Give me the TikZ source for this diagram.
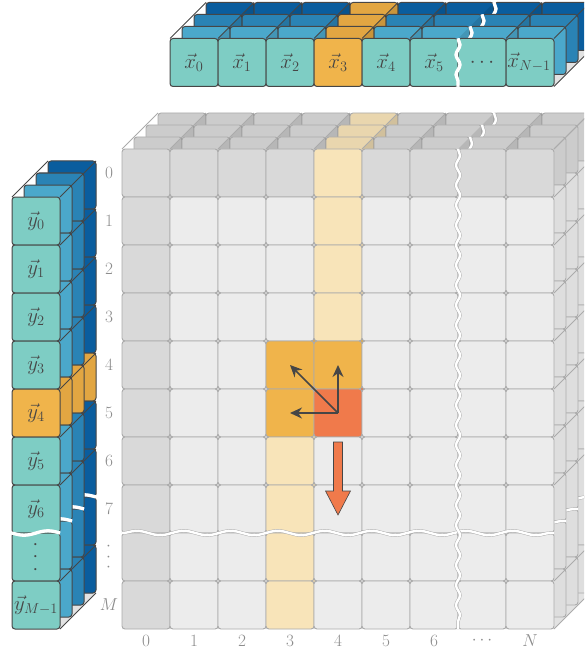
\documentclass[tikz,border=0pt]{standalone}
\usetikzlibrary{arrows.meta,decorations.pathmorphing}

\definecolor{vecfront}{HTML}{7ECDC4}
\definecolor{veclayA}{HTML}{4BA8CB}
\definecolor{veclayB}{HTML}{2A83B5}
\definecolor{veclayC}{HTML}{0A5D9E}
\definecolor{pickcell}{HTML}{F0B44B}
\definecolor{pickback}{HTML}{E2A642}
\definecolor{curcell}{HTML}{F07A4B}
\definecolor{cellgray}{HTML}{ECECEC}
\definecolor{headgray}{HTML}{D9D9D9}
\definecolor{pathtint}{HTML}{F8E4B9}
\definecolor{gridline}{HTML}{ABABAB}
\definecolor{floorgray}{HTML}{E2E2E2}
\definecolor{darkline}{HTML}{464646}
\definecolor{labelgray}{HTML}{8C8C8C}

\begin{document}
\begin{tikzpicture}[x=1pt,y=-1pt,
    gcell/.style={draw=gridline,line width=0.9pt,rounded corners=3pt},
    vcell/.style={draw=darkline,line width=1pt,rounded corners=3pt},
    wedge/.style={fill=black,fill opacity=0.1},
    breakband/.style={draw=#1,double=white,double distance=2.4pt,line width=0.45pt},
    breakband/.default=gridline,
    breakline/.style={breakband=#1,decorate,decoration={snake,amplitude=2pt,segment length=20pt}},
    breakline/.default=gridline,
    longwave/.style={decoration={segment length=47pt,amplitude=2.2pt}},
    axislabel/.style={text=labelgray,font=\fontsize{17.5}{21}\selectfont},
    veclabel/.style={text=darkline,font=\fontsize{20.5}{24}\selectfont},
    dotslabel/.style={rotate=90,inner sep=1pt},
    move/.style={darkline,line width=1.6pt,-{Stealth[length=12pt,width=11pt]}}]
\path[use as bounding box] (0,0) rectangle (584,655);
\clip (0,0) rectangle (584,655);

% score matrix
\fill[floorgray] (122,629) -- (554,629) -- ++(36,-36) -- (158,593) -- cycle;
\foreach \k/\sh in {3/94,2/94,1/94,0/100}{
  \begin{scope}[shift={(12*\k,-12*\k)}]
    \foreach \c in {0,...,8}
      \foreach \r in {0,...,9}{
        \def\fc{cellgray}
        \ifnum\r=0 \def\fc{headgray}\fi
        \ifnum\c=0 \def\fc{headgray}\fi
        \ifnum\c=4 \ifnum\r<4 \def\fc{pathtint}\fi\fi
        \ifnum\c=3 \ifnum\r>5 \def\fc{pathtint}\fi\fi
        \ifnum\r=4 \ifnum\c=3 \def\fc{pickcell}\fi \ifnum\c=4 \def\fc{pickcell}\fi\fi
        \ifnum\r=5 \ifnum\c=3 \def\fc{pickcell}\fi \ifnum\c=4 \def\fc{curcell}\fi\fi
        \draw[gcell,fill=\fc!\sh!black] (122+48*\c,149+48*\r) rectangle ++(48,48);
      }
    \ifnum\k>0
      \foreach \c in {1,...,8}
        \fill[wedge] (110+48*\c,161) -- (122+48*\c,149) -- (122+48*\c,161) -- cycle;
    \fi
    \draw[breakline,longwave] (122,533) -- (554,533);
    \draw[breakline] (458,149) -- (458,629);
  \end{scope}
}
\foreach \c in {0,...,6,8,9}
  \draw[gridline,line width=0.8pt] (122+48*\c,149) -- ++(36,-36);
\foreach \r in {0,...,7,9,10}
  \draw[gridline,line width=0.8pt] (554,149+48*\r) -- ++(36,-36);

% x vector
\fill[floorgray] (170,86.5) -- (554,86.5) -- ++(36,-36) -- (206,50.5) -- cycle;
\foreach \k/\lc in {3/veclayC,2/veclayB,1/veclayA,0/vecfront}{
  \begin{scope}[shift={(12*\k,-12*\k)}]
    \foreach \c in {0,...,7}{
      \def\fc{\lc}
      \ifnum\c=3 \ifnum\k=0 \def\fc{pickcell}\else \def\fc{pickback}\fi\fi
      \draw[vcell,fill=\fc] (170+48*\c,38.5) rectangle ++(48,48);
    }
    \ifnum\k>0
      \foreach \c in {1,...,7}
        \fill[wedge] (158+48*\c,50.5) -- (170+48*\c,38.5) -- (170+48*\c,50.5) -- cycle;
    \fi
    \draw[breakline=white] (458,38.5) -- (458,86.5);
  \end{scope}
}
\foreach \c in {0,...,5,7,8}
  \draw[darkline,line width=0.8pt] (170+48*\c,38.5) -- ++(36,-36);
\draw[darkline,line width=0.8pt] (554,86.5) -- ++(36,-36);

% y vector
\fill[floorgray] (12,629) -- (60,629) -- ++(36,-36) -- (48,593) -- cycle;
\foreach \k/\lc in {3/veclayC,2/veclayB,1/veclayA,0/vecfront}{
  \begin{scope}[shift={(12*\k,-12*\k)}]
    \foreach \r in {0,...,8}{
      \def\fc{\lc}
      \ifnum\r=4 \ifnum\k=0 \def\fc{pickcell}\else \def\fc{pickback}\fi\fi
      \draw[vcell,fill=\fc] (12,197+48*\r) rectangle ++(48,48);
    }
    \draw[breakband=white] (12,533) sin (24,535.2) cos (36,533) sin (48,530.8) cos (60,533);
  \end{scope}
}
\draw[darkline,line width=0.8pt] (12,197) -- ++(36,-36);
\foreach \r in {0,...,6,8,9}
  \draw[darkline,line width=0.8pt] (60,197+48*\r) -- ++(36,-36);

% labels
\foreach \i in {0,...,5}
  \node[veclabel] (x\i) at (194+48*\i,62.5) {$\vec{x}_{\i}$};
\node[veclabel] (xdots) at (482,62.5) {$\cdots$};
\node[veclabel] (xlast) at (529,62.5) {$\vec{x}_{N-1}$};
\foreach \i in {0,...,6}
  \node[veclabel] (y\i) at (36,221+48*\i) {$\vec{y}_{\i}$};
\node[veclabel,dotslabel] (ydots) at (36,557) {$\cdotp\mkern3mu\cdotp\mkern3mu\cdotp$};
\node[veclabel] (ylast) at (36,605) {$\vec{y}_{M-1}$};
\foreach \r in {0,...,7}
  \node[axislabel] (row\r) at (109,173+48*\r) {$\r$};
\node[axislabel,dotslabel] (rowdots) at (109,557) {$\cdotp\mkern3mu\cdotp\mkern3mu\cdotp$};
\node[axislabel] (rowlast) at (109,605) {$M$};
\foreach \c in {0,...,6}
  \node[axislabel] (col\c) at (146+48*\c,641) {$\c$};
\node[axislabel] (coldots) at (482,641) {$\cdots$};
\node[axislabel] (collast) at (530,641) {$N$};

% moves into the current cell
\coordinate (cellcur) at (338,413);
\coordinate (cellup) at (338,365);
\coordinate (celldiag) at (290,365);
\coordinate (cellleft) at (290,413);
\draw[move] (cellcur) -- (cellup);
\draw[move] (cellcur) -- (celldiag);
\draw[move] (cellcur) -- (cellleft);
\draw[fill=curcell,draw=darkline,line width=0.6pt] (333.5,442) -- (342.5,442) -- (342.5,491)
  -- (350.5,491) -- (338,515) -- (325.5,491) -- (333.5,491) -- cycle;
\end{tikzpicture}
\end{document}
